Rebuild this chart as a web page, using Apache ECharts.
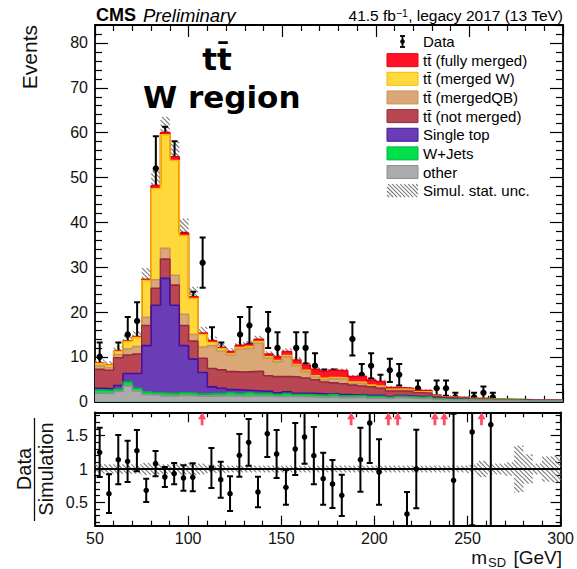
<!DOCTYPE html>
<html><head><meta charset="utf-8">
<script src="https://cdn.jsdelivr.net/npm/echarts@6/dist/echarts.min.js"></script>
<style>html,body{margin:0;padding:0;background:#fff}#c{width:577px;height:569px}</style>
</head><body><div id="c"></div>
<script>
// ---------------- data ----------------
const binLow = [50,55,60,65,70,75,80,85,90,95,100,105,110,115,120,125,130,135,140,145,150,155,160,165,170,175,180,185,190,195,200,205,210,215,220,225,230,235,240,245,250,255,260,265,270,275,280,285,290,295];
const other = [1.9,1.8,2.3,3.5,2.4,1.6,1.5,1.3,1.2,1.4, 1.3,1.2,1.3,1.3,1.3,1.2,1.3,1.2,1.2,1.1, 1.2,1.1,1.1,1.0,1.0,1.1,0.9,0.9,1.0,0.8, 0.8,0.7,0.9,0.8,0.7,0.8,0.5,0.4,0.4,0.4, 0.3,0.3,0.25,0.25,0.25,0.2,0.15,0.15,0.15,0.15];
const wJets = [0.7,0.7,0.5,0.9,0.6,0.6,0.5,0.6,0.6,0.6, 0.6,0.5,0.5,0.5,0.7,0.6,0.7,0.6,0.6,0.5, 0.6,0.5,0.5,0.5,0.4,0.5,0.4,0.4,0.4,0.4, 0.4,0.3,0.3,0.3,0.3,0.3,0.2,0.15,0.15,0.15, 0.1,0.1,0.1,0.1,0.1,0.1,0.05,0.05,0.05,0.05];
const singleTop = [0.4,0.4,0.8,1.9,3.3,10.3,19.5,25.6,19.7,10.5, 7.6,4.8,1.5,1.2,0.7,0.8,0.5,0.6,0.5,0.4, 0.4,0.3,0.3,0.3,0.3,0.2,0.3,0.2,0.2,0.2, 0.2,0.15,0.15,0.15,0.15,0.1,0.1,0.1,0.1,0.1, 0.05,0.05,0.05,0.05,0.05,0.05,0.03,0.03,0.03,0.03];
const ttNotMerged = [4.2,4.1,6.2,4.1,4.3,4.5,3.8,4.3,4.5,4.5, 4.0,3.2,4.1,4.1,4.0,4.0,4.2,4.4,3.5,3.6, 3.4,3.6,3.4,3.1,2.7,2.4,2.4,2.2,1.9,1.9, 1.6,1.25,1.05,1.05,0.85,0.7,0.4,0.25,0.15,0.15, 0.15,0.15,0.1,0.1,0.05,0.05,0.07,0.07,0.07,0.07];
const ttMergedQB = [0.8,0.6,0.7,1.4,1.7,1.8,1.9,2.4,2.2,2.5, 1.5,2.5,5.1,4.2,3.7,5.1,5.2,6.2,3.9,3.3, 4.4,2.5,1.4,0.6,0.5,0.9,1.0,0.4,0.5,0.1, 0.2,0.15,0.2,0.2,0.05,0.15,0.05,0.05,0.07,0.07, 0.05,0.05,0.02,0.02,0.02,0.02,0.04,0.04,0.04,0.04];
const ttMergedW = [0.5,0.5,0.7,1.6,2.0,8.2,20.3,25.3,25.6,17.5, 8.0,2.8,0.7,0.5,0.3,0.4,0.4,0.4,0.3,0.3, 0.3,0.3,0.3,0.3,0.3,0.3,0.3,0.3,0.3,0.3, 0.3,0.2,0.2,0.2,0.15,0.15,0.1,0.05,0.05,0.05, 0.05,0.05,0.04,0.04,0.04,0.04,0.03,0.03,0.03,0.03];
const ttFullyMerged = [0.1,0.1,0.1,0.2,0.2,0.3,0.7,0.5,0.8,0.6, 0.4,0.3,0.4,0.3,0.5,0.5,0.5,0.5,0.6,0.8, 0.9,1.0,1.2,1.4,1.6,1.6,1.6,1.2,1.3,1.1, 1.0,0.4,0.3,0.3,0.3,0.3,0.15,0.1,0.08,0.08, 0.05,0.05,0.04,0.04,0.04,0.04,0.03,0.03,0.03,0.03];
const mcStatUnc = [0.8,0.8,1.0,1.2,1.2,2.5,3.3,3.5,3.4,3.2, 2.2,1.4,0.9,0.8,0.7,0.7,0.7,0.8,0.6,0.6, 0.7,0.6,0.5,0.5,0.5,0.5,0.5,0.4,0.4,0.4, 0.35,0.3,0.3,0.3,0.25,0.25,0.2,0.15,0.15,0.15, 0.1,0.1,0.08,0.08,0.08,0.15,0.08,0.05,0.07,0.08];
const dataCounts = [10,5,10,15,18,19,52,54,51,32, 20,31,13,10,7,15,17,9,16,12, 8,12,12,8,5,5,4,14,6,8, 4,7,6,1,3,0,3,3,1,0, 1,2,1,0,0,0,0,0,0,0];
const dataErr = [3.2,2.2,3.2,3.9,4.2,4.4,7.2,7.3,7.1,5.7, 4.5,5.6,3.6,3.2,2.6,3.9,4.1,3.0,4.0,3.5, 2.8,3.5,3.5,2.8,2.2,2.2,2.0,3.7,2.4,2.8, 2.0,2.6,2.4,1.0,1.7,0,1.7,1.7,1.0,0, 1.0,1.4,1.0,0,0,0,0,0,0,0];
const ratio = [1.25,0.63,1.14,1.115,1.275,0.68,1.08,0.88,0.93,0.865, 0.875,null,1.015,0.84,0.63,1.205,1.4,0.655,1.53,1.225, 0.725,1.3,1.48,1.2,0.855,0.775,0.605,null,1.14,1.69, 0.955,null,null,0.325,1.0,null,null,null,0.83,null, 1.555,null,1.665,null,null,null,null,null,null,null];
const ratioErr = [0.37,0.29,0.37,0.31,0.31,0.175,0.19,0.15,0.16,0.19, 0.21,null,0.3,0.27,0.26,0.32,0.35,0.23,0.35,0.36, 0.26,0.39,0.4,0.43,0.39,0.36,0.31,null,0.48,0.6, 0.49,null,null,0.33,0.59,null,null,null,1.0,null, 1.4,null,1.6,null,null,null,null,null,null,null];
const ratioStatUnc = [0.07,0.07,0.07,0.07,0.07,0.09,0.08,0.07,0.07,0.08, 0.09,0.08,0.06,0.06,0.05,0.05,0.05,0.05,0.05,0.05, 0.05,0.05,0.05,0.05,0.05,0.05,0.05,0.05,0.05,0.05, 0.05,0.05,0.05,0.05,0.05,0.05,0.05,0.05,0.05,0.05, 0.06,0.12,0.08,0.08,0.1,0.35,0.22,0.08,0.19,0.2];
const ratioOverflowX = [107.5,187.5,207.5,212.5,232.5,237.5,257.5];
const yTicksTop = [0,10,20,30,40,50,60,70,80];
const yTicksRatio = [0.5,1,1.5];
const legendNames = ['Data','tt\u0304 (fully merged)','tt\u0304 (merged W)','tt\u0304 (mergedQB)','tt\u0304 (not merged)','Single top','W+Jets','other','Simul. stat. unc.'];

// ---------------- setup ----------------
const BW = 5, XMIN = 50, XMAX = 300, YMAX = 84, RMIN = 0.15, RMAX = 1.85;
const FONT = '"Liberation Sans", Arial, Helvetica, sans-serif';
const components = [
  {name: legendNames[7], vals: other,         fill: '#ababab', line: '#8e8e8e'},
  {name: legendNames[6], vals: wJets,         fill: '#00e04c', line: '#00b838'},
  {name: legendNames[5], vals: singleTop,     fill: '#6a3cb6', line: '#46109e'},
  {name: legendNames[4], vals: ttNotMerged,   fill: '#b84653', line: '#9a2a39'},
  {name: legendNames[3], vals: ttMergedQB,    fill: '#d9a876', line: '#c8935e'},
  {name: legendNames[2], vals: ttMergedW,     fill: '#ffd93c', line: '#f2bd00'},
  {name: legendNames[1], vals: ttFullyMerged, fill: '#ff1426', line: '#ea0012'}
];
let run = binLow.map(() => 0);
const cumul = components.map(c => { run = run.map((v, i) => v + c.vals[i]); return run.slice(); });
const total = cumul[cumul.length - 1];

function hatchLines(x0, y0, x1, y1, sp, color) {
  const out = [];
  const cMin = y0 - x1, cMax = y1 - x0;
  for (let k = Math.ceil(cMin / sp); k * sp <= cMax; k++) {
    const c = k * sp;
    const xs = Math.max(x0, y0 - c), xe = Math.min(x1, y1 - c);
    if (xe > xs) out.push({type: 'line', shape: {x1: xs, y1: xs + c, x2: xe, y2: xe + c}, style: {stroke: color, lineWidth: 1.1}});
  }
  return out;
}
function hatchRender(params, api) {
  const x = api.value(0), lo = api.value(1), hi = api.value(2);
  const p0 = api.coord([x, hi]), p1 = api.coord([x + BW, lo]);
  return {type: 'group', children: hatchLines(p0[0], p0[1], p1[0], p1[1], 4.5, '#7c7c7c')};
}
function pointRender(r, cap, lw) {
  return function (params, api) {
    const x = api.value(0), v = api.value(1), e = api.value(2);
    const c = api.coord([x, v]), t = api.coord([x, v + e]), b = api.coord([x, v - e]);
    const st = {stroke: '#000', lineWidth: lw};
    return {type: 'group', children: [
      {type: 'line', shape: {x1: c[0], y1: t[1], x2: c[0], y2: b[1]}, style: st},
      {type: 'line', shape: {x1: c[0] - cap, y1: t[1], x2: c[0] + cap, y2: t[1]}, style: st},
      {type: 'line', shape: {x1: c[0] - cap, y1: b[1], x2: c[0] + cap, y2: b[1]}, style: st},
      {type: 'circle', shape: {cx: c[0], cy: c[1], r: r}, style: {fill: '#000'}}
    ]};
  };
}
function arrowRender(params, api) {
  const p = api.coord([api.value(0), api.value(1)]);
  const x = p[0], y = p[1];
  return {type: 'group', children: [
    {type: 'polygon', shape: {points: [[x, y], [x - 4, y + 7], [x + 4, y + 7]]}, style: {fill: '#ff4d66'}},
    {type: 'rect', shape: {x: x - 1.4, y: y + 6, width: 2.8, height: 7}, style: {fill: '#ff4d66'}}
  ]};
}

const axLine = {show: true, onZero: false, lineStyle: {color: '#000', width: 1.8}};
function xAx(grid, pos, major, minor, labels) {
  return {gridIndex: grid, type: 'value', min: XMIN, max: XMAX, interval: 50, position: pos,
    axisLine: axLine, splitLine: {show: false},
    axisTick: {show: true, inside: true, length: major, lineStyle: {color: '#000', width: 1.2}},
    minorTick: {show: true, splitNumber: 5, length: minor, lineStyle: {color: '#000', width: 1.2}},
    axisLabel: labels ? {show: true, fontSize: 16, color: '#111', fontFamily: FONT, margin: 5} : {show: false}};
}
function yAx(grid, pos, mn, mx, ticks, len, labels, line) {
  return {gridIndex: grid, type: 'value', min: mn, max: mx, position: pos,
    axisLine: line ? axLine : {show: false}, splitLine: {show: false},
    axisTick: {show: true, inside: true, length: len, customValues: ticks, lineStyle: {color: '#000', width: 1.2}},
    axisLabel: labels ? {show: true, customValues: ticks, fontSize: 16, color: '#111', fontFamily: FONT, margin: 7,
      formatter: v => String(Math.round(v * 10) / 10)} : {show: false}};
}
const minorTop = [];
for (let v = 2; v <= YMAX; v += 2) if (v % 10 !== 0) minorTop.push(v);
const minorRatio = [];
for (let k = 2; k <= 18; k++) if (k % 5 !== 0) minorRatio.push(k / 10);

const series = [];
components.slice().reverse().forEach((c, j) => {
  const k = components.length - 1 - j;
  series.push({type: 'line', name: c.name, xAxisIndex: 0, yAxisIndex: 0, step: 'end', symbol: 'none', silent: true,
    data: binLow.map((x, i) => [x, cumul[k][i]]).concat([[XMAX, cumul[k][binLow.length - 1]]]),
    areaStyle: {color: c.fill, opacity: 1}, lineStyle: {color: c.line, width: 1.6}});
});
series.push({type: 'custom', name: legendNames[8], xAxisIndex: 0, yAxisIndex: 0, clip: true, silent: true,
  data: binLow.map((x, i) => [x, total[i] - mcStatUnc[i], total[i] + mcStatUnc[i]]),
  encode: {x: 0, y: [1, 2]}, renderItem: hatchRender});
series.push({type: 'custom', name: legendNames[0], xAxisIndex: 0, yAxisIndex: 0, clip: true, silent: true,
  data: binLow.map((x, i) => [x + BW / 2, dataCounts[i], dataErr[i]]).filter(d => d[1] > 0),
  encode: {x: 0, y: 1}, renderItem: pointRender(3.2, 3, 2)});
// ratio panel
series.push({type: 'custom', xAxisIndex: 2, yAxisIndex: 4, clip: true, silent: true,
  data: binLow.map((x, i) => [x, 1 - ratioStatUnc[i], 1 + ratioStatUnc[i]]),
  encode: {x: 0, y: [1, 2]}, renderItem: hatchRender});
series.push({type: 'line', xAxisIndex: 2, yAxisIndex: 4, symbol: 'none', silent: true,
  data: [[XMIN, 1], [XMAX, 1]], lineStyle: {color: '#000', width: 1.8}});
series.push({type: 'custom', xAxisIndex: 2, yAxisIndex: 4, clip: true, silent: true,
  data: binLow.map((x, i) => [x + BW / 2, ratio[i], ratioErr[i]]).filter(d => d[1] !== null),
  encode: {x: 0, y: 1}, renderItem: pointRender(2.8, 3, 2)});
series.push({type: 'custom', xAxisIndex: 2, yAxisIndex: 4, clip: false, silent: true,
  data: ratioOverflowX.map(x => [x, RMAX]), encode: {x: 0, y: 1}, renderItem: arrowRender});

// ---------------- legend + texts ----------------
const graphic = [];
const L0 = 41.5, LS = 18.65, BX = 387, BWID = 31, BH = 13, TX = 423;
legendNames.forEach((name, r) => {
  const yc = L0 + r * LS;
  if (r === 0) {
    graphic.push({type: 'line', shape: {x1: 402.5, y1: yc - 5.5, x2: 402.5, y2: yc + 5.5}, style: {stroke: '#000', lineWidth: 1.8}});
    graphic.push({type: 'line', shape: {x1: 400, y1: yc - 5.5, x2: 405, y2: yc - 5.5}, style: {stroke: '#000', lineWidth: 1.8}});
    graphic.push({type: 'line', shape: {x1: 400, y1: yc + 5.5, x2: 405, y2: yc + 5.5}, style: {stroke: '#000', lineWidth: 1.8}});
    graphic.push({type: 'circle', shape: {cx: 402.5, cy: yc, r: 2.3}, style: {fill: '#000'}});
  } else if (r === 8) {
    hatchLines(BX, yc - BH / 2, BX + BWID, yc + BH / 2, 4, '#7c7c7c').forEach(l => graphic.push(l));
  } else {
    const c = components[components.length - r];
    graphic.push({type: 'rect', shape: {x: BX, y: yc - BH / 2, width: BWID, height: BH}, style: {fill: c.fill, stroke: c.line, lineWidth: 1}});
  }
  graphic.push({type: 'text', x: TX, y: yc, style: {text: name, font: '15px ' + FONT, fill: '#000', align: 'left', verticalAlign: 'middle'}});
});
graphic.push({type: 'text', x: 96, y: 15, style: {text: 'CMS', font: 'bold 18px ' + FONT, fill: '#000', align: 'left', verticalAlign: 'middle'}});
graphic.push({type: 'text', x: 143, y: 15, style: {text: 'Preliminary', font: 'italic 18.5px ' + FONT, fill: '#000', align: 'left', verticalAlign: 'middle'}});
graphic.push({type: 'text', x: 563, y: 15, style: {text: '{a|41.5 fb}{s|\u22121}{a|, legacy 2017 (13 TeV)}', align: 'right', verticalAlign: 'middle',
  rich: {a: {font: '15.5px ' + FONT, fill: '#000'}, s: {font: '10.5px ' + FONT, fill: '#000', verticalAlign: 'top'}}}});
graphic.push({type: 'text', x: 217, y: 59, style: {text: 'tt\u0304', font: 'bold 31px "DejaVu Sans", sans-serif', fill: '#000', align: 'center', verticalAlign: 'middle'}});
graphic.push({type: 'text', x: 143, y: 97, style: {text: 'W region', font: 'bold 31px "DejaVu Sans", sans-serif', fill: '#000', align: 'left', verticalAlign: 'middle'}});
graphic.push({type: 'text', x: 29, y: 25, rotation: Math.PI / 2, style: {text: 'Events', font: '21px ' + FONT, fill: '#111', align: 'right', verticalAlign: 'middle'}});
graphic.push({type: 'text', x: 24, y: 469, rotation: Math.PI / 2, style: {text: 'Data', font: '20px ' + FONT, fill: '#111', align: 'center', verticalAlign: 'middle'}});
graphic.push({type: 'line', shape: {x1: 34.5, y1: 418, x2: 34.5, y2: 521}, style: {stroke: '#111', lineWidth: 1.3}});
graphic.push({type: 'text', x: 46, y: 469, rotation: Math.PI / 2, style: {text: 'Simulation', font: '20px ' + FONT, fill: '#111', align: 'center', verticalAlign: 'middle'}});
graphic.push({type: 'text', x: 562, y: 557, style: {text: '[GeV]', font: '19px ' + FONT, fill: '#111', align: 'right', verticalAlign: 'middle'}});
graphic.push({type: 'text', x: 488, y: 562, style: {text: 'SD', font: '13px ' + FONT, fill: '#111', align: 'left', verticalAlign: 'middle'}});
graphic.push({type: 'text', x: 487, y: 557, style: {text: 'm', font: '19px ' + FONT, fill: '#111', align: 'right', verticalAlign: 'middle'}});

const option = {
  animation: false,
  backgroundColor: '#fff',
  grid: [
    {left: 95, width: 468, top: 25, height: 376.7},
    {left: 95, width: 468, top: 412.3, height: 113.4}
  ],
  xAxis: [xAx(0, 'bottom', 12, 6, false), xAx(0, 'top', 12, 6, false), xAx(1, 'bottom', 10, 5, true), xAx(1, 'top', 10, 5, false)],
  yAxis: [
    yAx(0, 'left', 0, YMAX, yTicksTop, 13, true, true),
    yAx(0, 'left', 0, YMAX, minorTop, 7, false, false),
    yAx(0, 'right', 0, YMAX, yTicksTop, 13, false, true),
    yAx(0, 'right', 0, YMAX, minorTop, 7, false, false),
    yAx(1, 'left', RMIN, RMAX, yTicksRatio, 10, true, true),
    yAx(1, 'left', RMIN, RMAX, minorRatio, 5, false, false),
    yAx(1, 'right', RMIN, RMAX, yTicksRatio, 10, false, true),
    yAx(1, 'right', RMIN, RMAX, minorRatio, 5, false, false)
  ],
  series: series,
  graphic: graphic
};
const chart = echarts.init(document.getElementById('c'), null, {renderer: 'svg'});
chart.setOption(option);
</script></body></html>
